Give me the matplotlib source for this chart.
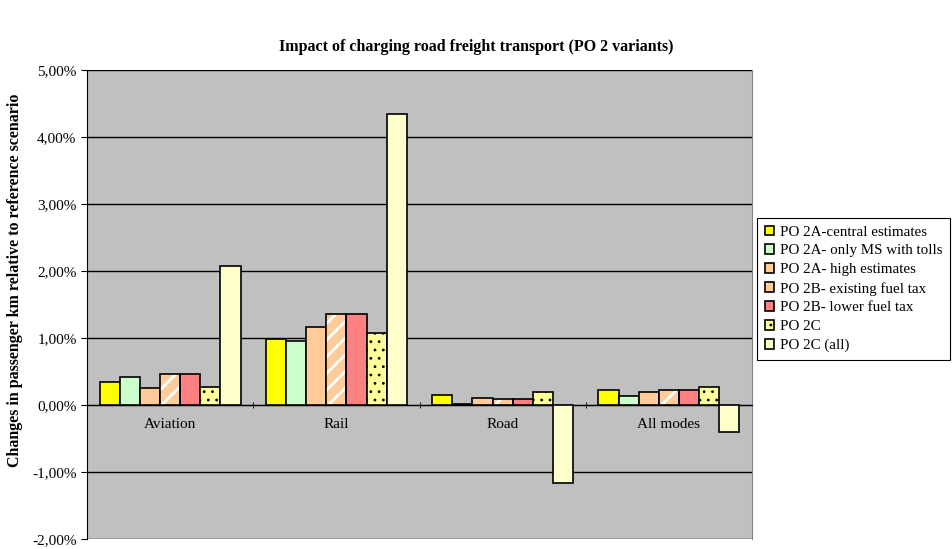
#!/usr/bin/env python
import numpy as np
import matplotlib
matplotlib.use("Agg")
from matplotlib import pyplot as plt
from matplotlib.ticker import FuncFormatter

plt.rcParams['font.family'] = ['Liberation Serif', 'DejaVu Serif']

# data (percent change)
modes = ["Aviation", "Rail", "Road", "All modes"]
series = ["PO 2A-central estimates", "PO 2A- only MS with tolls", "PO 2A- high estimates",
          "PO 2B- existing fuel tax", "PO 2B- lower fuel tax", "PO 2C", "PO 2C (all)"]
central = [0.34, 0.98, 0.15, 0.22]
ms_tolls = [0.42, 0.95, 0.02, 0.13]
high = [0.25, 1.17, 0.11, 0.20]
fuel_existing = [0.46, 1.36, 0.09, 0.22]
fuel_lower = [0.46, 1.36, 0.09, 0.22]
po2c = [0.27, 1.07, 0.19, 0.27]
po2c_all = [2.07, 4.34, -1.17, -0.41]
values = [central, ms_tolls, high, fuel_existing, fuel_lower, po2c, po2c_all]

colors = ["#FFFF00", "#CCFFCC", "#FFCC99", "#FFCC99", "#FF8080", "#FFFF99", "#FFFFCC"]
hatches = [None, None, None, "//", None, "..", None]

fig = plt.figure(figsize=(9.52, 5.49), dpi=100)
ax = fig.add_axes([87/952, 1-539/549, (752-87)/952, (539-70)/549])
ax.set_facecolor("#C0C0C0")

x = np.arange(len(modes))
w = 0.121
handles = []
for i, (vals, c, h) in enumerate(zip(values, colors, hatches)):
    pos = x - 3*w + i*w
    if h == "//":
        plt.rcParams['hatch.linewidth'] = 2.0
        b1 = ax.bar(pos, vals, w, color=c, edgecolor="white", hatch=h, linewidth=0, zorder=3)
        b2 = ax.bar(pos, vals, w, fill=False, edgecolor="black", linewidth=1.2, zorder=4)
        handles.append((b1[0], b2[0]))
    else:
        plt.rcParams['hatch.linewidth'] = 0.8
        b = ax.bar(pos, vals, w, color=c, edgecolor="black", hatch=h, linewidth=1.2, zorder=3)
        handles.append(b[0])

ax.set_ylim(-2, 5)
ax.set_xlim(-0.5, 3.5)
ax.set_yticks(np.arange(-2, 6, 1))
ax.yaxis.set_major_formatter(FuncFormatter(lambda v, p: ("%.2f%%" % v).replace(".", ",")))
ax.yaxis.grid(True, color="black", linewidth=1)
ax.set_axisbelow(True)

ax.spines['bottom'].set_position(('data', 0))
ax.spines['top'].set_visible(False)
ax.spines['right'].set_color("#808080")
ax.spines['left'].set_color("black")
ax.set_xticks(x)
ax.set_xticklabels(modes, fontsize=11)
ax.set_xticks(np.arange(-0.5, 4, 1), minor=True)
ax.tick_params(axis='x', which='major', length=0, pad=9)
ax.tick_params(axis='x', which='minor', length=4, direction='inout')
ax.tick_params(axis='y', labelsize=11, length=4, direction='out')

fig.text(15/952, 1-280/549, "Changes in passenger km relative to reference scenario",
         rotation=90, ha="center", va="center", fontsize=11.5, fontweight="bold")
fig.text(0.5, 1-47/549, "Impact of charging road freight transport (PO 2 variants)",
         ha="center", va="center", fontsize=11.5, fontweight="bold")

leg = fig.legend(handles, series, loc="upper left", bbox_to_anchor=(757/952, 1-218/549),
                 fontsize=10.8, handlelength=0.6, handleheight=0.6, handletextpad=0.4,
                 fancybox=False, edgecolor="black", framealpha=1, borderaxespad=0,
                 labelspacing=0.38, borderpad=0.5)
leg.get_frame().set_linewidth(0.8)

fig.savefig("out.png", dpi=100)
